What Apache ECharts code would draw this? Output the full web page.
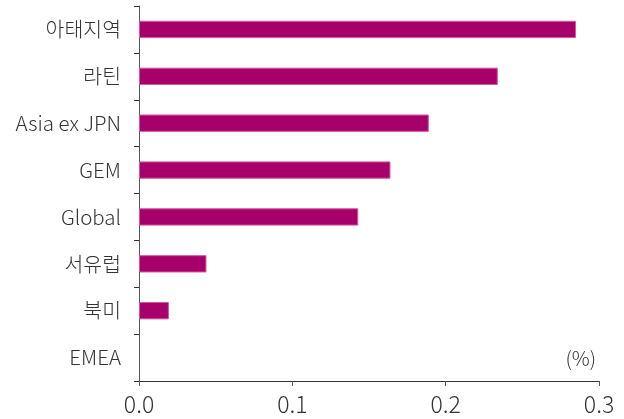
<!DOCTYPE html>
<html>
<head>
<meta charset="utf-8">
<script src="https://cdn.jsdelivr.net/npm/echarts@6/dist/echarts.min.js"></script>
<style>
  html, body { margin: 0; padding: 0; background: #fff; }
  #chart { width: 624px; height: 419px; }
</style>
</head>
<body>
<div id="chart"></div>
<script>
// Regions, listed top to bottom
const categories = ['아태지역', '라틴', 'Asia ex JPN', 'GEM', 'Global', '서유럽', '북미', 'EMEA'];
// Values in %
const values = [0.285, 0.234, 0.189, 0.164, 0.143, 0.044, 0.0195, 0];
const xTicks = [0, 0.1, 0.2, 0.3];

const FONT = '"Noto Sans CJK KR", "Noto Sans", sans-serif';
const chart = echarts.init(document.getElementById('chart'), null, { renderer: 'canvas' });

// zero-length bars get no outline so they stay invisible
const barData = values.map(v => ({
  value: v,
  itemStyle: v === 0 ? { borderWidth: 0 } : undefined
}));

chart.setOption({
  animation: false,
  grid: { left: 139, right: 25, top: 6, bottom: 38, containLabel: false },
  xAxis: {
    type: 'value',
    min: xTicks[0],
    max: xTicks[xTicks.length - 1],
    interval: 0.1,
    axisLine: { show: true, lineStyle: { color: '#333', width: 1 } },
    axisTick: { show: true, length: 5, lineStyle: { color: '#555' } },
    splitLine: { show: false },
    axisLabel: {
      margin: 12,
      fontFamily: FONT,
      fontWeight: 300,
      fontSize: 23,
      color: '#333',
      formatter: v => v.toFixed(1)
    }
  },
  yAxis: {
    type: 'category',
    inverse: true,
    data: categories,
    axisLine: { show: true, lineStyle: { color: '#555', width: 1 } },
    axisTick: { show: true, length: 5, lineStyle: { color: '#333' } },
    axisLabel: {
      margin: 18,
      fontFamily: FONT,
      fontWeight: 300,
      fontSize: 20.5,
      color: '#333'
    }
  },
  graphic: [{
    type: 'text',
    right: 28,
    top: 348,
    style: { text: '(%)', font: '300 20px ' + FONT, fill: '#333' }
  }],
  series: [{
    type: 'bar',
    data: barData,
    barWidth: '37%',
    itemStyle: { color: '#A8006A', borderColor: '#D15A9E', borderWidth: 1 }
  }]
});
</script>
</body>
</html>
